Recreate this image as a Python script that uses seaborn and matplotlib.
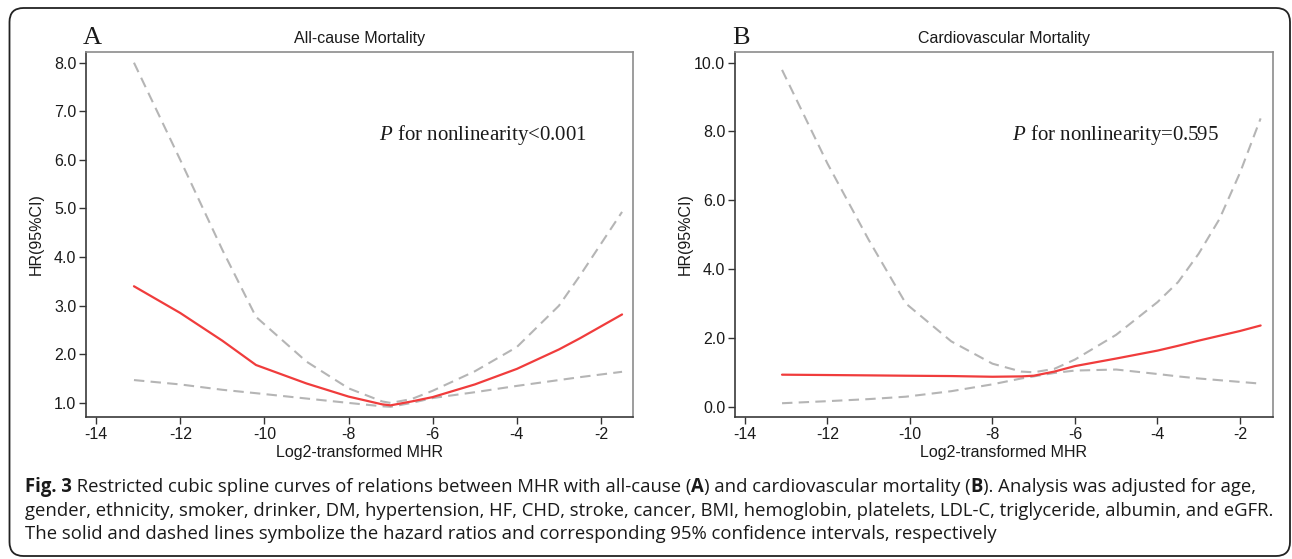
import matplotlib
matplotlib.use("Agg")
import matplotlib.pyplot as plt
import seaborn as sns
import pandas as pd
from matplotlib.patches import FancyBboxPatch
from matplotlib.transforms import IdentityTransform

# ---------------- data ----------------
xA = [-13.1, -12.0, -11.0, -10.2, -9.0, -8.0, -7.2, -7.0, -6.5, -6.0, -5.0, -4.0, -3.0, -2.5, -1.5]
hrA = [3.40, 2.85, 2.28, 1.78, 1.40, 1.13, 0.97, 0.95, 1.03, 1.12, 1.38, 1.70, 2.10, 2.33, 2.82]
upA = [8.00, 6.00, 4.15, 2.77, 1.85, 1.30, 1.03, 1.00, 1.08, 1.25, 1.65, 2.15, 3.00, 3.62, 4.93]
loA = [1.47, 1.38, 1.27, 1.20, 1.09, 1.00, 0.93, 0.92, 1.00, 1.10, 1.22, 1.35, 1.47, 1.53, 1.64]

xB = [-13.1, -12.0, -11.0, -10.1, -9.0, -8.0, -7.3, -7.0, -6.5, -6.0, -5.0, -4.0, -3.5, -3.0, -2.5, -2.0, -1.5]
hrB = [0.93, 0.92, 0.91, 0.90, 0.89, 0.87, 0.88, 0.90, 1.02, 1.18, 1.40, 1.63, 1.77, 1.92, 2.06, 2.20, 2.36]
upB = [9.79, 7.07, 4.85, 3.00, 1.90, 1.25, 1.02, 1.00, 1.10, 1.37, 2.09, 3.04, 3.62, 4.45, 5.45, 6.80, 8.38]
loB = [0.10, 0.16, 0.22, 0.29, 0.45, 0.65, 0.82, 0.88, 0.98, 1.05, 1.08, 0.95, 0.88, 0.82, 0.77, 0.72, 0.67]

titles = ["All-cause Mortality", "Cardiovascular Mortality"]
panel_letters = ["A", "B"]
p_texts = ["for nonlinearity<0.001", "for nonlinearity=0.595"]
x_ticks = [-14, -12, -10, -8, -6, -4, -2]
yticksA = [1, 2, 3, 4, 5, 6, 7, 8]
yticksB = [0, 2, 4, 6, 8, 10]
xlabel = "Log2-transformed MHR"
ylabel = "HR(95%CI)"

caption_lines = [
    [("Fig. 3", True),
     (" Restricted cubic spline curves of relations between MHR with all-cause (", False),
     ("A", True), (") and cardiovascular mortality (", False), ("B", True),
     ("). Analysis was adjusted for age,", False)],
    [("gender, ethnicity, smoker, drinker, DM, hypertension, HF, CHD, stroke, cancer, BMI, "
      "hemoglobin, platelets, LDL-C, triglyceride, albumin, and eGFR.", False)],
    [("The solid and dashed lines symbolize the hazard ratios and corresponding 95% "
      "confidence intervals, respectively", False)],
]

# ---------------- style ----------------
sns.set_style("white")
plt.rcParams["font.family"] = ["Liberation Sans", "DejaVu Sans"]
plt.rcParams["mathtext.fontset"] = "custom"
plt.rcParams["mathtext.it"] = "Liberation Serif:italic"
plt.rcParams["mathtext.rm"] = "Liberation Serif"

W, H = 1292, 559
fig = plt.figure(figsize=(W / 100, H / 100), dpi=100)
fig.patch.set_facecolor("white")

RED = "#F03C3C"
GRAY = "#B5B5B5"

# axes placement in pixels (left, right, top, bottom)
boxes = [(86, 633, 52, 417), (735, 1273, 52, 417)]
xlims = [(-14.24, -1.24), (-14.24, -1.2)]
ylims = [(0.71, 8.22), (-0.30, 10.31)]
data = [(xA, hrA, upA, loA), (xB, hrB, upB, loB)]
yticks_all = [yticksA, yticksB]
ptext_pos = [(0.536, 0.773), (0.515, 0.773)]

for i in range(2):
    l, r, t, b = boxes[i]
    ax = fig.add_axes([l / W, 1 - b / H, (r - l) / W, (b - t) / H])
    xs, hr, up, lo = data[i]
    df_hr = pd.DataFrame({"x": xs, "y": hr})
    df_up = pd.DataFrame({"x": xs, "y": up})
    df_lo = pd.DataFrame({"x": xs, "y": lo})
    sns.lineplot(data=df_up, x="x", y="y", ax=ax, color=GRAY, lw=1.5,
                 linestyle=(0, (5, 3)), estimator=None, sort=False)
    sns.lineplot(data=df_lo, x="x", y="y", ax=ax, color=GRAY, lw=1.5,
                 linestyle=(0, (5, 3)), estimator=None, sort=False)
    sns.lineplot(data=df_hr, x="x", y="y", ax=ax, color=RED, lw=1.6,
                 estimator=None, sort=False)
    ax.set_xlim(*xlims[i])
    ax.set_ylim(*ylims[i])
    ax.set_xticks(x_ticks)
    ax.set_xticklabels([str(v) for v in x_ticks])
    ax.set_yticks(yticks_all[i])
    ax.set_yticklabels([f"{v:.1f}" for v in yticks_all[i]])
    ax.set_xlabel("")
    ax.set_ylabel("")
    ax.tick_params(axis="both", which="both", direction="out", length=5,
                   width=1.0, color="#333333", labelsize=11.5, pad=2,
                   labelcolor="#1a1a1a", bottom=True, left=True)
    for side in ["left", "bottom"]:
        ax.spines[side].set_color("#3a3a3a")
        ax.spines[side].set_linewidth(1.2)
    for side in ["top", "right"]:
        ax.spines[side].set_color("#8c8c8c")
        ax.spines[side].set_linewidth(1.2)
    ax.grid(False)
    ax.text(ptext_pos[i][0], ptext_pos[i][1], r"$P$ " + p_texts[i],
            transform=ax.transAxes, ha="left", va="center",
            fontsize=15, family=["Liberation Serif", "DejaVu Serif"], color="#1a1a1a")

    cx = (l + r) / 2
    fig.text(cx / W, 1 - 39 / H, titles[i], ha="center", va="center",
             fontsize=11.5, color="#1a1a1a")
    fig.text(cx / W, 1 - 452 / H, xlabel, ha="center", va="center",
             fontsize=11.5, color="#1a1a1a")
    fig.text((l - 50) / W, 1 - ((t + b) / 2) / H, ylabel, ha="center", va="center",
             rotation=90, fontsize=11.5, color="#1a1a1a")
    fig.text((l - 3) / W, 1 - 38 / H, panel_letters[i], ha="left", va="center",
             fontsize=19, family=["Liberation Serif", "DejaVu Serif"], color="#1a1a1a")

# ---------------- border ----------------
border = FancyBboxPatch((9.5, 3.0), 1290 - 9.5, 551 - 3.0,
                        boxstyle="round,pad=0,rounding_size=14",
                        transform=IdentityTransform(), fill=False,
                        edgecolor="#222222", linewidth=1.3)
fig.patches.append(border)

# ---------------- caption ----------------
renderer = fig.canvas.get_renderer()
cap_family = ["Open Sans", "DejaVu Sans"]
x0 = 25
target_w = 1252 - 25
baselines = [492, 516, 539]


def place_line(segments, ypix, size):
    x = x0
    arts = []
    for txt, bold in segments:
        t = fig.text(x / W, 1 - ypix / H, txt, ha="left", va="baseline",
                     fontsize=size, family=cap_family,
                     fontweight="bold" if bold else "normal", color="#1a1a1a")
        ext = t.get_window_extent(renderer=renderer)
        x += ext.width
        arts.append(t)
    return arts, x - x0


base = 12
arts, w = place_line(caption_lines[0], baselines[0], base)
for a in arts:
    a.remove()
size = base * target_w / w
for line, yb in zip(caption_lines, baselines):
    place_line(line, yb, size)

fig.savefig("out.png", dpi=100, facecolor="white")
